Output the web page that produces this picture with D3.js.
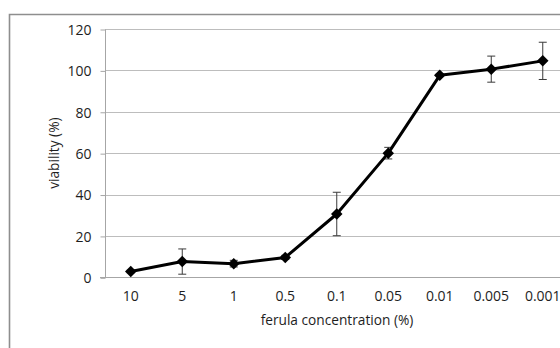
<!doctype html>
<html lang="en">
  <head>
    <meta charset="utf-8">
    <title>Ferula viability</title>
    <style>
    body { margin: 0; background: #fff; }
    svg text { font-family: "Open Sans", "Liberation Sans", sans-serif; fill: #1e1e1e; }
    .grid line { stroke: #bdbdbd; stroke-width: 1px; }
    </style>
    <script src="https://d3js.org/d3.v7.min.js"></script>
  </head>
  <body>
    <svg width="560" height="348"></svg>
    <script>
    // data
    var concentrations = ["10", "5", "1", "0.5", "0.1", "0.05", "0.01", "0.005", "0.001"];
    var viability = [2.8, 7.6, 6.6, 9.6, 30.6, 60, 97.6, 100.6, 104.6];
    var errors = [0.6, 6.1, 1.6, 1.0, 10.5, 2.8, 0.6, 6.3, 9.0];
    var yTicks = [0, 20, 40, 60, 80, 100, 120];

    var svg = d3.select("svg");

    // note: "top" is a reserved window global, so use plotTop
    var plotLeft = 105, plotTop = 29, plotBottom = 277.3, step = 51.5;

    var x = d3.scalePoint()
        .domain(concentrations)
        .range([plotLeft + step / 2, plotLeft + step * (concentrations.length - 0.5)]);
    var y = d3.scaleLinear().domain([0, 120]).range([plotBottom, plotTop]);

    // outer chart frame (cropped on the right and bottom)
    svg.append("path")
        .attr("d", "M9.5,348V14.5H560")
        .attr("fill", "none")
        .attr("stroke", "#8e8e8e")
        .attr("stroke-width", 1.6);

    // horizontal gridlines
    svg.append("g")
        .attr("class", "grid")
        .selectAll("line")
        .data(yTicks.filter(function(d) { return d > 0; }))
        .enter().append("line")
        .attr("x1", plotLeft)
        .attr("x2", 560)
        .attr("y1", function(d) { return Math.round(y(d)) + 0.5; })
        .attr("y2", function(d) { return Math.round(y(d)) + 0.5; });

    // y axis
    var yAxis = svg.append("g")
        .attr("transform", "translate(" + (plotLeft + 0.5) + ",0.5)")
        .call(d3.axisLeft(y).tickValues(yTicks).tickSize(5).tickPadding(9));
    yAxis.selectAll("line, path").attr("stroke", "#a6a6a6");
    yAxis.select(".domain").attr("d", "M0," + Math.round(y(120)) + "V" + Math.round(y(0)));
    yAxis.selectAll("text")
        .style("font-size", "14px")
        .attr("fill", "#1e1e1e")
        .attr("dy", "0.34em");

    // x axis line (no ticks)
    svg.append("line")
        .attr("x1", plotLeft - 5)
        .attr("x2", 560)
        .attr("y1", Math.round(plotBottom) + 0.5)
        .attr("y2", Math.round(plotBottom) + 0.5)
        .attr("stroke", "#a6a6a6");

    svg.append("g").selectAll("text")
        .data(concentrations)
        .enter().append("text")
        .attr("x", function(d) { return x(d); })
        .attr("y", 301)
        .attr("text-anchor", "middle")
        .style("font-size", "14px")
        .text(function(d) { return d; });

    // axis titles
    svg.append("text")
        .attr("x", 337)
        .attr("y", 325)
        .attr("text-anchor", "middle")
        .style("font-size", "13.7px")
        .text("ferula concentration (%)");

    svg.append("text")
        .attr("transform", "translate(59," + ((plotTop + plotBottom) / 2) + ") rotate(-90)")
        .attr("text-anchor", "middle")
        .style("font-size", "13.7px")
        .text("viability (%)");

    var pts = concentrations.map(function(c, i) {
      return { c: c, v: viability[i], e: errors[i] };
    });

    // error bars
    var eb = svg.append("g")
        .attr("stroke", "#3a3a3a")
        .attr("stroke-width", 1)
        .selectAll("g")
        .data(pts)
        .enter().append("g");
    eb.append("line")
        .attr("x1", function(d) { return x(d.c); })
        .attr("x2", function(d) { return x(d.c); })
        .attr("y1", function(d) { return y(d.v - d.e); })
        .attr("y2", function(d) { return y(d.v + d.e); });
    eb.selectAll(".cap")
        .data(function(d) { return [[d.c, d.v - d.e], [d.c, d.v + d.e]]; })
        .enter().append("line")
        .attr("x1", function(d) { return x(d[0]) - 4; })
        .attr("x2", function(d) { return x(d[0]) + 4; })
        .attr("y1", function(d) { return y(d[1]); })
        .attr("y2", function(d) { return y(d[1]); });

    // line
    svg.append("path")
        .datum(pts)
        .attr("fill", "none")
        .attr("stroke", "#000")
        .attr("stroke-width", 3)
        .attr("stroke-linejoin", "round")
        .attr("d", d3.line()
          .x(function(d) { return x(d.c); })
          .y(function(d) { return y(d.v); }));

    // diamond markers
    svg.append("g").selectAll("path")
        .data(pts)
        .enter().append("path")
        .attr("d", d3.symbol().type(d3.symbolSquare).size(66))
        .attr("fill", "#000")
        .attr("transform", function(d) {
          return "translate(" + x(d.c) + "," + y(d.v) + ") rotate(45)";
        });
    </script>
  </body>
</html>
